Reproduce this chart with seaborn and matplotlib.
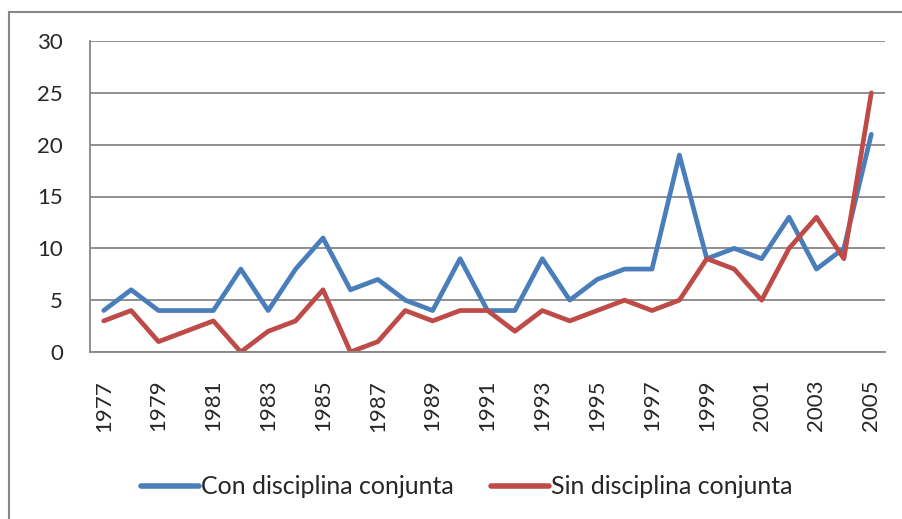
import numpy as np
import pandas as pd
import matplotlib
matplotlib.use("Agg")
import matplotlib.pyplot as plt
import seaborn as sns
from matplotlib.patches import Rectangle

years = list(range(1977, 2006))
con = [4, 6, 4, 4, 4, 8, 4, 8, 11, 6, 7, 5, 4, 9, 4, 4, 9, 5, 7, 8, 8, 19, 9, 10, 9, 13, 8, 10, 21]
sin = [3, 4, 1, 2, 3, 0, 2, 3, 6, 0, 1, 4, 3, 4, 4, 2, 4, 3, 4, 5, 4, 5, 9, 8, 5, 10, 13, 9, 25]
series = ["Con disciplina conjunta", "Sin disciplina conjunta"]
colors = ["#4A7EBB", "#BE4B48"]

df = pd.DataFrame({"year": years * 2,
                   "value": con + sin,
                   "serie": [series[0]] * len(years) + [series[1]] * len(years)})
df["pos"] = df["year"] - years[0]

sns.set_style("white")
plt.rcParams["font.family"] = ["Lato", "DejaVu Sans"]

fig = plt.figure(figsize=(9.02, 5.19), dpi=100)
# outer chart border
fig.patches.append(Rectangle((9 / 902, -0.1), 1.2, 1 - 12 / 519 + 0.1, transform=fig.transFigure,
                             fill=False, edgecolor="#878787", linewidth=1.5))
ax = fig.add_axes([90 / 902, 1 - 352 / 519, (885 - 90) / 902, (352 - 41) / 519])

sns.lineplot(data=df, x="pos", y="value", hue="serie", palette=colors, linewidth=3.4,
             ax=ax, legend=True)

ax.set_xlim(-0.5, len(years) - 0.5)
ax.set_ylim(0, 30)
ax.set_yticks(range(0, 31, 5))
ax.yaxis.grid(True, color="#878787", linewidth=1.3)
ax.set_axisbelow(True)
ax.set_xticks(range(0, len(years), 2))
ax.set_xticklabels([str(y) for y in years[::2]], rotation=90, fontsize=16)
ax.tick_params(axis="y", labelsize=16, pad=16)
ax.tick_params(axis="x", pad=20, length=0)
ax.set_xlabel("")
ax.set_ylabel("")
for s in ["top", "right"]:
    ax.spines[s].set_visible(False)
for s in ["left", "bottom"]:
    ax.spines[s].set_color("#878787")
    ax.spines[s].set_linewidth(1.3)

h, l = ax.get_legend_handles_labels()
for hh in h:
    hh.set_linewidth(4)
ax.legend(h, l, loc="center", bbox_to_anchor=(467 / 902, 1 - 487 / 519),
          bbox_transform=fig.transFigure, ncol=2, frameon=False, fontsize=18,
          handlelength=2.3, handletextpad=0.1, columnspacing=1.5)

fig.savefig("out.png", dpi=100)
